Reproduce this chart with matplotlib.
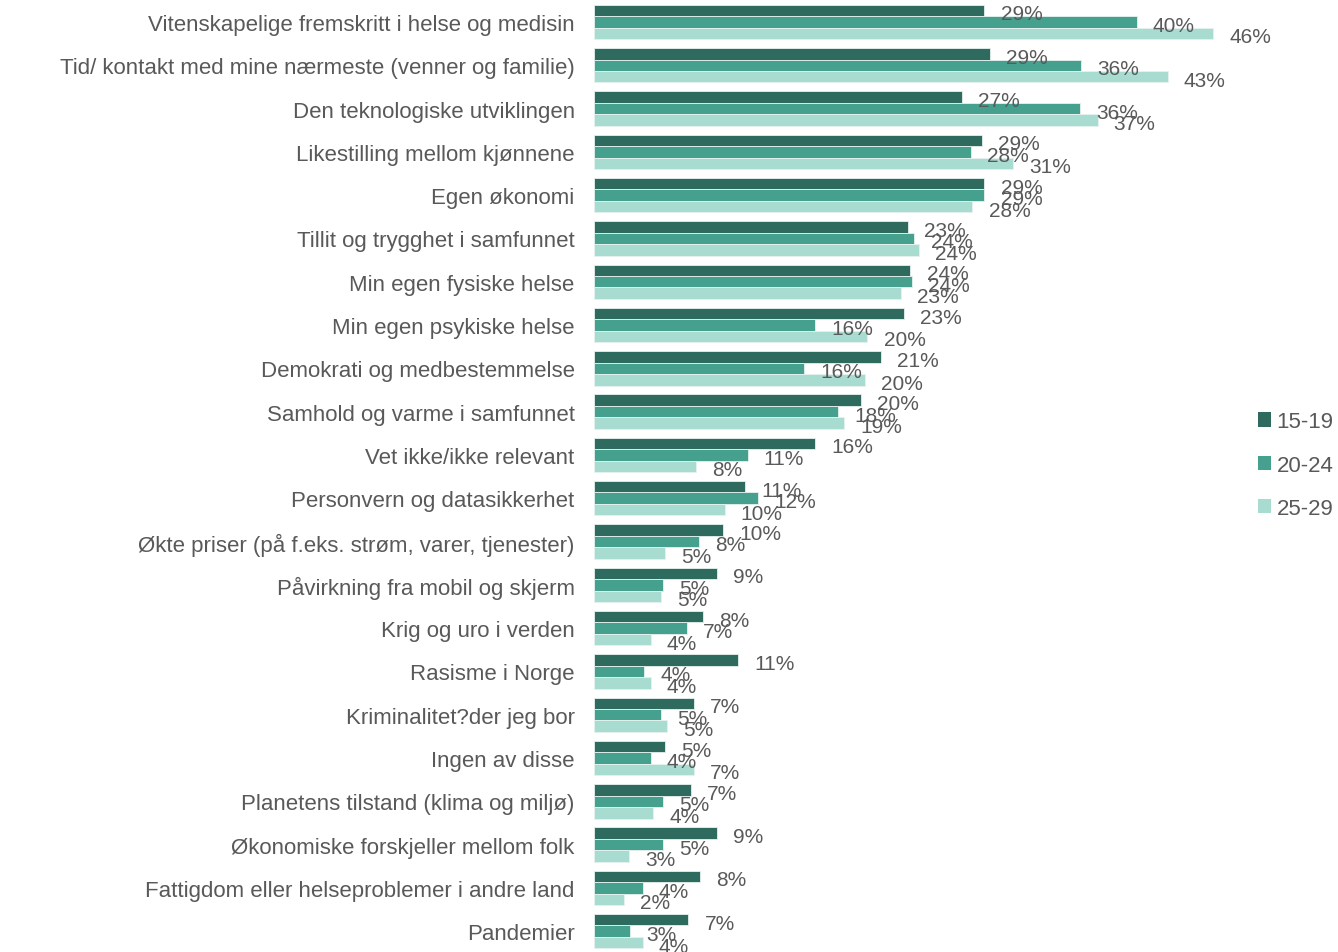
import numpy as np
import matplotlib.pyplot as plt
from matplotlib.patches import Patch

plt.rcParams['font.family'] = ['Liberation Sans', 'DejaVu Sans']

categories = [
    'Vitenskapelige fremskritt i helse og medisin',
    'Tid/ kontakt med mine nærmeste (venner og familie)',
    'Den teknologiske utviklingen',
    'Likestilling mellom kjønnene',
    'Egen økonomi',
    'Tillit og trygghet i samfunnet',
    'Min egen fysiske helse',
    'Min egen psykiske helse',
    'Demokrati og medbestemmelse',
    'Samhold og varme i samfunnet',
    'Vet ikke/ikke relevant',
    'Personvern og datasikkerhet',
    'Økte priser (på f.eks. strøm, varer, tjenester)',
    'Påvirkning fra mobil og skjerm',
    'Krig og uro i verden',
    'Rasisme i Norge',
    'Kriminalitet?der jeg bor',
    'Ingen av disse',
    'Planetens tilstand (klima og miljø)',
    'Økonomiske forskjeller mellom folk',
    'Fattigdom eller helseproblemer i andre land',
    'Pandemier',
]

age_15_19 = [29.0, 29.4, 27.3, 28.8, 29.0, 23.3, 23.5, 23.0, 21.3, 19.8, 16.4,
             11.2, 9.6, 9.1, 8.1, 10.7, 7.4, 5.3, 7.2, 9.1, 7.9, 7.0]
age_20_24 = [40.3, 36.2, 36.1, 28.0, 29.0, 23.8, 23.6, 16.4, 15.6, 18.1, 11.4,
             12.2, 7.8, 5.1, 6.9, 3.7, 5.0, 4.2, 5.1, 5.1, 3.6, 2.7]
age_25_29 = [46.0, 42.6, 37.4, 31.1, 28.1, 24.1, 22.8, 20.3, 20.1, 18.6, 7.6,
             9.7, 5.3, 5.0, 4.2, 4.2, 5.4, 7.4, 4.4, 2.6, 2.2, 3.6]

series = [('15-19', age_15_19, '#2E6B5E'),
          ('20-24', age_20_24, '#45A08E'),
          ('25-29', age_25_29, '#A8DCD0')]

text_color = '#595959'
fs = 15       # data labels
fs_cat = 16   # category + legend text

fig = plt.figure(figsize=(13.38, 9.53), dpi=100)
ax = fig.add_axes([0.444, 0.0, 0.49, 1.0])

y = np.arange(len(categories))
h = 0.265
for k, (name, vals, col) in enumerate(series):
    pos = y + (k - 1) * h
    ax.barh(pos, vals, height=h, color=col, edgecolor='#E6F2EF', linewidth=0.6, label=name)
    for p, v in zip(pos, vals):
        ax.text(v + 1.2, p + 0.08, f'{round(v)}%', va='center', ha='left',
                fontsize=fs, color=text_color)

ax.set_yticks(y)
ax.set_yticklabels(categories, fontsize=fs_cat, color=text_color)
ax.tick_params(axis='y', length=0, pad=14)
ax.set_xticks([])
ax.set_xlim(0, 48.7)
ax.set_ylim(21.48, -0.53)
for s in ax.spines.values():
    s.set_visible(False)

handles = [Patch(facecolor=c, edgecolor='none', label=n) for n, _, c in series]
fig.legend(handles=handles, loc='center left', bbox_to_anchor=(0.940, 0.511),
           frameon=False, fontsize=fs_cat, handlelength=0.6, handleheight=0.6,
           handletextpad=0.25, labelspacing=1.0, borderpad=0, borderaxespad=0,
           labelcolor=text_color)

fig.savefig('out.png', dpi=100)
